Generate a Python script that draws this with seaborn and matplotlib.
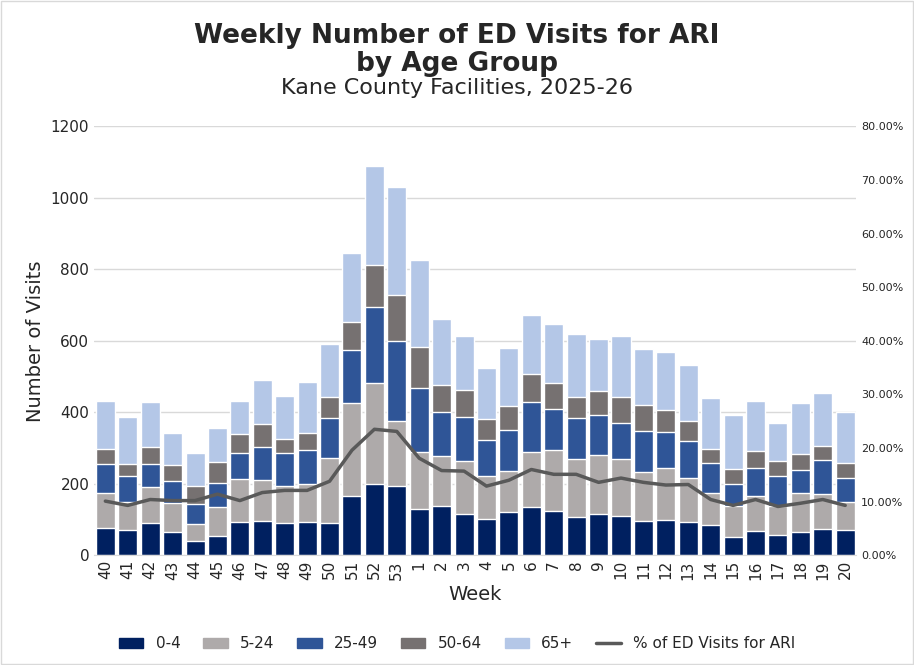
import numpy as np
import pandas as pd
import matplotlib.pyplot as plt
import seaborn as sns
from matplotlib.ticker import PercentFormatter
from matplotlib.patches import Patch
from matplotlib.lines import Line2D

weeks = [str(w) for w in list(range(40, 54)) + list(range(1, 21))]
age_0_4 = [76, 70, 89, 64, 39, 53, 92, 95, 89, 92, 89, 165, 199, 193, 129, 137, 115,
           101, 120, 134, 123, 106, 115, 109, 95, 98, 92, 84, 50, 67, 56, 64, 73, 70]
age_5_24 = [97, 78, 101, 81, 48, 81, 120, 115, 104, 107, 182, 260, 282, 182, 159, 140, 148,
            120, 115, 154, 171, 162, 165, 159, 137, 145, 123, 89, 87, 98, 81, 110, 98, 78]
age_25_49 = [82, 73, 65, 62, 56, 67, 73, 92, 92, 95, 112, 148, 213, 224, 179, 123, 123,
             101, 115, 140, 114, 115, 112, 101, 115, 101, 104, 84, 62, 78, 84, 65, 95, 67]
age_50_64 = [41, 34, 47, 45, 50, 59, 53, 64, 39, 47, 59, 79, 117, 128, 115, 75, 75,
             58, 67, 78, 73, 59, 67, 73, 73, 62, 56, 39, 42, 48, 42, 44, 39, 42]
age_65 = [135, 131, 126, 89, 92, 95, 93, 123, 121, 143, 148, 193, 277, 302, 243, 185, 152,
          145, 162, 165, 165, 176, 145, 171, 156, 162, 156, 143, 151, 140, 106, 143, 148, 143]
pct_ari = [10.1, 9.3, 10.4, 10.2, 10.2, 11.4, 10.2, 11.7, 12.1, 12.1, 13.8, 19.6, 23.5, 23.1,
           18.1, 15.8, 15.7, 12.9, 14.0, 16.0, 15.1, 15.1, 13.6, 14.4, 13.6, 13.1, 13.2,
           10.4, 9.3, 10.4, 9.1, 9.7, 10.4, 9.3]

groups = ["0-4", "5-24", "25-49", "50-64", "65+"]
colors = ["#002060", "#AEAAAA", "#2F5597", "#767171", "#B4C7E7"]
series = [age_0_4, age_5_24, age_25_49, age_50_64, age_65]

df = pd.DataFrame({"week": weeks})
cum = np.zeros(len(weeks))
for g, s in zip(groups, series):
    cum = cum + np.array(s)
    df[g] = cum

sns.set_style("white")
plt.rcParams['font.family'] = ['DejaVu Sans']
fig = plt.figure(figsize=(9.14, 6.65), dpi=100)
ax = fig.add_axes([0.103, 0.165, 0.834, 0.645])

# stacked bars: draw the tallest cumulative layer first
for g, c in reversed(list(zip(groups, colors))):
    sns.barplot(data=df, x="week", y=g, color=c, width=0.85, saturation=1, ax=ax, zorder=2)

ax.set_ylim(0, 1200)
ax.set_yticks(range(0, 1201, 200))
ax.yaxis.grid(True, color="#d9d9d9", lw=1, zorder=0)
ax.set_axisbelow(True)
ax.set_xlim(-0.5, len(weeks) - 0.5)
ax.set_xlabel("Week", fontsize=14)
ax.set_ylabel("Number of Visits", fontsize=14)
ax.tick_params(axis="x", rotation=90, labelsize=11, length=0)
ax.tick_params(axis="y", labelsize=11, length=0)
for sp in ["top", "right", "left"]:
    ax.spines[sp].set_visible(False)
ax.spines["bottom"].set_color("#d9d9d9")

ax2 = ax.twinx()
sns.lineplot(x=np.arange(len(weeks)), y=pct_ari, color="#595959", lw=2.5, ax=ax2)
ax2.set_ylim(0, 80)
ax2.set_yticks(range(0, 81, 10))
ax2.yaxis.set_major_formatter(PercentFormatter(decimals=2))
ax2.tick_params(axis="y", labelsize=8, length=0)
for sp in ax2.spines.values():
    sp.set_visible(False)
ax2.set_xlim(-0.5, len(weeks) - 0.5)

fig.text(0.5, 0.965, "Weekly Number of ED Visits for ARI\nby Age Group", ha="center", va="top",
         fontsize=19, fontweight="bold", linespacing=1.1)
fig.text(0.5, 0.858, "Kane County Facilities, 2025-26", ha="center", fontsize=16)

handles = [Patch(color=c, label=g) for g, c in zip(groups, colors)]
handles.append(Line2D([], [], color="#595959", lw=2.5, label="% of ED Visits for ARI"))
fig.legend(handles=handles, loc="lower center", ncol=6, frameon=False, fontsize=11,
           bbox_to_anchor=(0.5, 0.0), handlelength=1.6, columnspacing=1.5)

fig.patches.append(plt.Rectangle((0.001, 0.001), 0.998, 0.998, transform=fig.transFigure,
                                 fill=False, edgecolor="#d9d9d9", lw=1))
fig.savefig("out.png", dpi=100)
